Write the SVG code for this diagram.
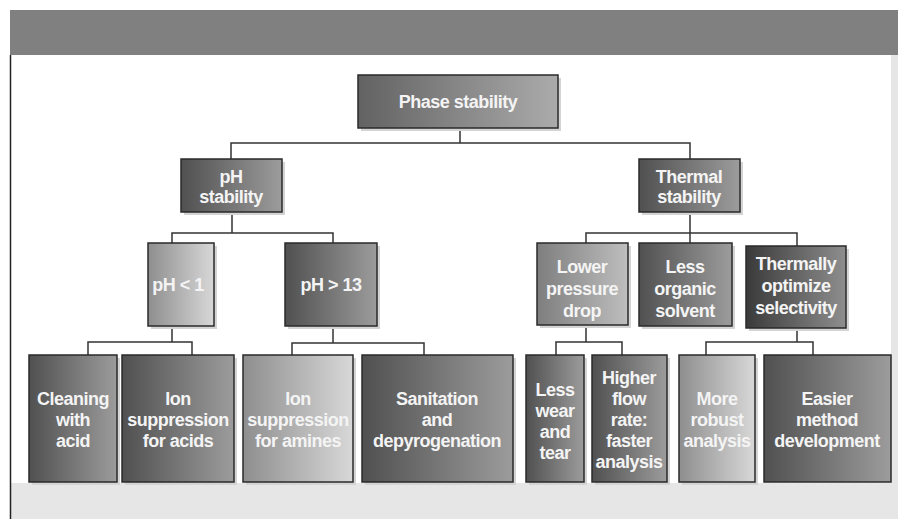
<svg xmlns="http://www.w3.org/2000/svg" width="898" height="519" viewBox="0 0 898 519">
<defs>
<linearGradient id="gMid" x1="0" x2="1" y1="0" y2="0"><stop offset="0" stop-color="#626262"/><stop offset="1" stop-color="#ababab"/></linearGradient>
<linearGradient id="gDark" x1="0" x2="1" y1="0" y2="0"><stop offset="0" stop-color="#505050"/><stop offset="1" stop-color="#9c9c9c"/></linearGradient>
<linearGradient id="gDarker" x1="0" x2="1" y1="0" y2="0"><stop offset="0" stop-color="#3a3a3a"/><stop offset="1" stop-color="#8e8e8e"/></linearGradient>
<linearGradient id="gLight" x1="0" x2="1" y1="0" y2="0"><stop offset="0" stop-color="#8e8e8e"/><stop offset="1" stop-color="#d8d8d8"/></linearGradient>
<linearGradient id="gLower" x1="0" x2="1" y1="0" y2="0"><stop offset="0" stop-color="#7e7e7e"/><stop offset="1" stop-color="#bebebe"/></linearGradient>
</defs>
<style>
.box{stroke:#2a2a2a;stroke-width:1.5}
.sh{fill:#d4d4d4}
.t{font-family:"Liberation Sans",Arial,sans-serif;font-weight:bold;font-size:18px;letter-spacing:-0.5px;fill:#f4f4f4;text-anchor:middle}
.c{fill:none;stroke:#333;stroke-width:1.5}
</style>
<rect x="0" y="0" width="898" height="519" fill="#ffffff"/>
<rect x="10" y="10" width="888" height="45" fill="#808080"/>
<rect x="11" y="483" width="887" height="36" fill="#e6e6e6"/>
<rect x="891" y="55" width="7" height="428" fill="#e6e6e6"/>
<line x1="10.5" y1="55" x2="10.5" y2="519" stroke="#222" stroke-width="1.5"/>

<g id="connectors">
<path class="c" d="M460 128V143M231 159V143H690V159"/>
<path class="c" d="M232 212V233M172 243V233H333V243"/>
<path class="c" d="M690 212V243M586 243V233H797V246"/>
<path class="c" d="M172 326V342M88 355V342H192V355"/>
<path class="c" d="M333 326V343M292 355V343H424V355"/>
<path class="c" d="M586 325V342M556 355V342H622V355"/>
<path class="c" d="M797 328V342M706 355V342H813V355"/>
</g>

<g id="n-phase"><rect class="sh" x="361" y="78" width="200" height="53"/><rect class="box" x="358" y="75" width="200" height="53" fill="url(#gMid)"/><text class="t" x="458" y="108">Phase stability</text></g>
<g id="n-ph"><rect class="sh" x="184" y="162" width="101" height="53"/><rect class="box" x="181" y="159" width="101" height="53" fill="url(#gDark)"/><text class="t" x="231" y="183">pH</text><text class="t" x="231" y="203">stability</text></g>
<g id="n-thermal"><rect class="sh" x="642" y="162" width="101" height="53"/><rect class="box" x="639" y="159" width="101" height="53" fill="url(#gDark)"/><text class="t" x="689" y="183">Thermal</text><text class="t" x="689" y="203">stability</text></g>

<g id="n-ph1"><rect class="sh" x="151" y="246" width="66" height="83"/><rect class="box" x="148" y="243" width="66" height="83" fill="url(#gLight)"/><text class="t" x="178" y="291">pH &lt; 1</text></g>
<g id="n-ph13"><rect class="sh" x="288" y="246" width="92" height="83"/><rect class="box" x="285" y="243" width="92" height="83" fill="url(#gDark)"/><text class="t" x="331" y="291">pH &gt; 13</text></g>
<g id="n-lower"><rect class="sh" x="540" y="246" width="91" height="82"/><rect class="box" x="537" y="243" width="91" height="82" fill="url(#gLower)"/><text class="t" x="582" y="273">Lower</text><text class="t" x="582" y="295">pressure</text><text class="t" x="582" y="317">drop</text></g>
<g id="n-less"><rect class="sh" x="642" y="246" width="93" height="83"/><rect class="box" x="639" y="243" width="93" height="83" fill="url(#gDark)"/><text class="t" x="685" y="273">Less</text><text class="t" x="685" y="295">organic</text><text class="t" x="685" y="317">solvent</text></g>
<g id="n-thermally"><rect class="sh" x="749" y="249" width="100" height="82"/><rect class="box" x="746" y="246" width="100" height="82" fill="url(#gDarker)"/><text class="t" x="796" y="270">Thermally</text><text class="t" x="796" y="292">optimize</text><text class="t" x="796" y="314">selectivity</text></g>

<g id="n-cleaning"><rect class="sh" x="32" y="358" width="88" height="127"/><rect class="box" x="29" y="355" width="88" height="127" fill="url(#gDark)"/><text class="t" x="73" y="405">Cleaning</text><text class="t" x="73" y="426">with</text><text class="t" x="73" y="447">acid</text></g>
<g id="n-ionacids"><rect class="sh" x="125" y="358" width="112" height="127"/><rect class="box" x="122" y="355" width="112" height="127" fill="url(#gDark)"/><text class="t" x="178" y="405">Ion</text><text class="t" x="178" y="426">suppression</text><text class="t" x="178" y="447">for acids</text></g>
<g id="n-ionamines"><rect class="sh" x="246" y="358" width="110" height="127"/><rect class="box" x="243" y="355" width="110" height="127" fill="url(#gLight)"/><text class="t" x="298" y="405">Ion</text><text class="t" x="298" y="426">suppression</text><text class="t" x="298" y="447">for amines</text></g>
<g id="n-sanitation"><rect class="sh" x="365" y="358" width="151" height="127"/><rect class="box" x="362" y="355" width="151" height="127" fill="url(#gDark)"/><text class="t" x="437" y="405">Sanitation</text><text class="t" x="437" y="426">and</text><text class="t" x="437" y="447">depyrogenation</text></g>
<g id="n-wear"><rect class="sh" x="529" y="358" width="58" height="127"/><rect class="box" x="526" y="355" width="58" height="127" fill="url(#gDark)"/><text class="t" x="555" y="396">Less</text><text class="t" x="555" y="417">wear</text><text class="t" x="555" y="438">and</text><text class="t" x="555" y="459">tear</text></g>
<g id="n-higher"><rect class="sh" x="595" y="358" width="75" height="127"/><rect class="box" x="592" y="355" width="75" height="127" fill="url(#gDark)"/><text class="t" x="629" y="384">Higher</text><text class="t" x="629" y="405">flow</text><text class="t" x="629" y="426">rate:</text><text class="t" x="629" y="447">faster</text><text class="t" x="629" y="468">analysis</text></g>
<g id="n-robust"><rect class="sh" x="682" y="358" width="76" height="127"/><rect class="box" x="679" y="355" width="76" height="127" fill="url(#gLight)"/><text class="t" x="717" y="405">More</text><text class="t" x="717" y="426">robust</text><text class="t" x="717" y="447">analysis</text></g>
<g id="n-easier"><rect class="box" x="764" y="355" width="127" height="127" fill="url(#gDark)"/><text class="t" x="827" y="405">Easier</text><text class="t" x="827" y="426">method</text><text class="t" x="827" y="447">development</text></g>
</svg>
